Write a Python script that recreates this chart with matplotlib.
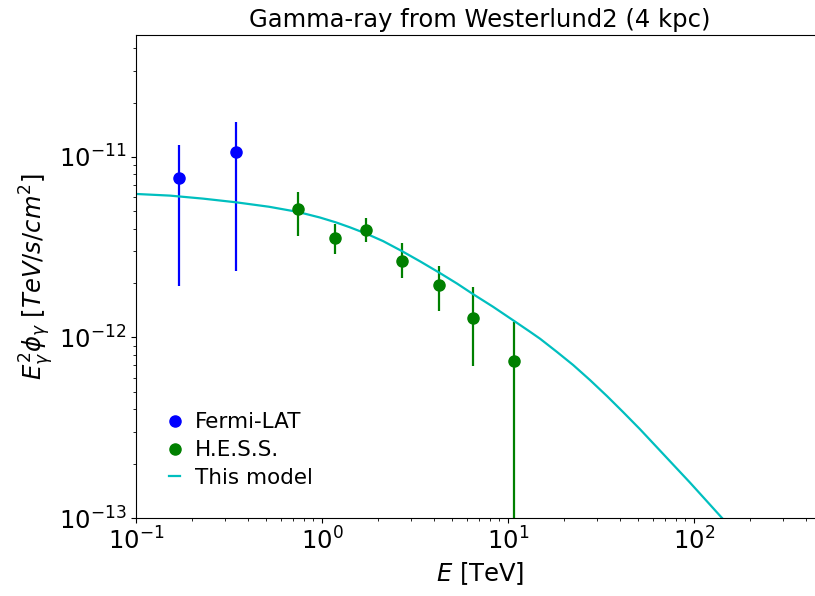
import numpy as np
import matplotlib
matplotlib.use('Agg')
import matplotlib.pyplot as plt

# Fermi-LAT data points
fermi_E = [0.170, 0.345]
fermi_F = [7.6e-12, 1.07e-11]
fermi_lo = [1.93e-12, 2.33e-12]
fermi_hi = [1.17e-11, 1.56e-11]

# H.E.S.S. data points
hess_E = [0.743, 1.17, 1.72, 2.70, 4.27, 6.46, 10.8]
hess_F = [5.15e-12, 3.56e-12, 3.95e-12, 2.66e-12, 1.95e-12, 1.29e-12, 7.43e-13]
hess_lo = [3.65e-12, 2.90e-12, 3.36e-12, 2.14e-12, 1.40e-12, 6.95e-13, 1e-15]
hess_hi = [6.43e-12, 4.23e-12, 4.57e-12, 3.33e-12, 2.49e-12, 1.90e-12, 1.22e-12]

# model curve
model_E = [0.1, 0.152, 0.229, 0.345, 0.519, 0.743, 0.975, 1.19, 1.41, 1.72,
           2.13, 2.69, 3.37, 4.26, 5.32, 6.48, 8.31, 10.6, 13.1, 14.9,
           18.3, 22.4, 27.6, 34.1, 41.5, 51.3, 63.3, 77.1, 95.2, 117.5,
           146.8, 176.7]
model_F = [6.24e-12, 6.11e-12, 5.88e-12, 5.61e-12, 5.30e-12, 4.96e-12, 4.62e-12,
           4.34e-12, 4.08e-12, 3.77e-12, 3.42e-12, 3.01e-12, 2.64e-12, 2.29e-12,
           1.99e-12, 1.74e-12, 1.48e-12, 1.25e-12, 1.078e-12, 9.83e-13, 8.33e-13,
           7.04e-13, 5.81e-13, 4.73e-13, 3.87e-13, 3.10e-13, 2.46e-13, 1.98e-13,
           1.57e-13, 1.236e-13, 9.59e-14, 7.75e-14]

fig = plt.figure(figsize=(8.15, 5.96), dpi=100)
ax = fig.add_axes([136 / 815, 78 / 596, 688 / 815, 483 / 596])

fermi_err = [np.array(fermi_F) - np.array(fermi_lo), np.array(fermi_hi) - np.array(fermi_F)]
hess_err = [np.array(hess_F) - np.array(hess_lo), np.array(hess_hi) - np.array(hess_F)]

ax.errorbar(fermi_E, fermi_F, yerr=fermi_err, fmt='o', color='b', ms=8, elinewidth=1.6)
ax.errorbar(hess_E, hess_F, yerr=hess_err, fmt='o', color='g', ms=8, elinewidth=1.6)
ax.plot([], [], 'bo', ms=8, label='Fermi-LAT')
ax.plot([], [], 'go', ms=8, label='H.E.S.S.')
ax.plot(model_E, model_F, 'c-', lw=1.6, label='This model')

ax.set_xscale('log')
ax.set_yscale('log')
ax.set_xlim(0.1, 500)
ax.set_ylim(1e-13, 4.74e-11)

ax.set_xlabel(r'$E$ [TeV]', fontsize=17.5)
ax.set_ylabel(r'$E_{\gamma}^2\phi_{\gamma}$ $[TeV/s/cm^2]$', fontsize=17.5, labelpad=2)
ax.set_title('Gamma-ray from Westerlund2 (4 kpc)', fontsize=17.5)
ax.tick_params(axis='both', which='major', labelsize=17.5)

ax.legend(loc='lower left', bbox_to_anchor=(0.02, 0.022), frameon=False,
          fontsize=15.5, handlelength=0.5, handletextpad=0.7, labelspacing=0.36)

fig.savefig('out.png', dpi=100)
